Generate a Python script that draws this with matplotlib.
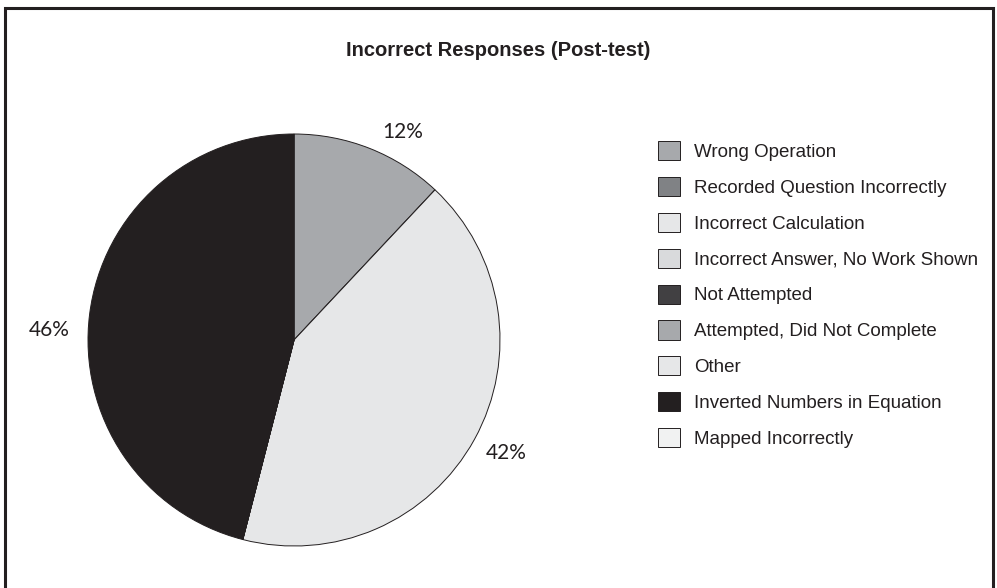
import matplotlib
matplotlib.use("Agg")
import matplotlib.pyplot as plt
from matplotlib.patches import Rectangle

categories = ["Wrong Operation", "Recorded Question Incorrectly",
              "Incorrect Calculation", "Incorrect Answer, No Work Shown",
              "Not Attempted", "Attempted, Did Not Complete", "Other",
              "Inverted Numbers in Equation", "Mapped Incorrectly"]
percents = [12, 0, 42, 0, 0, 0, 0, 46, 0]
colors = ["#a7a9ac", "#808285", "#e6e7e8", "#d9dadc", "#414042",
          "#a7a9ac", "#e6e7e8", "#231f20", "#f1f2f2"]

ink = "#231f20"
W, H = 997, 588

fig = plt.figure(figsize=(W / 100, H / 100), dpi=100)

# square axes holding the pie (pixel box converted to figure fractions)
ax = fig.add_axes([88 / W, 42 / H, 412 / W, 412 / H])
wedges, _ = ax.pie(percents, colors=colors, startangle=90, counterclock=False,
                   radius=1, wedgeprops=dict(edgecolor=ink, linewidth=0.7))
ax.set_xlim(-1, 1)
ax.set_ylim(-1, 1)
ax.set_aspect("equal")
ax.axis("off")

# percentage labels sit just outside their slice
label_xy = {0: (0.53, 1.01), 2: (1.03, -0.55), 7: (-1.19, 0.05)}
for i, p in enumerate(percents):
    if p == 0:
        continue
    x, y = label_xy[i]
    ax.text(x, y, f"{p}%", ha="center", va="center", fontsize=15,
            family="Lato", color=ink, clip_on=False)

fig.text(0.5, 1 - 51 / H, "Incorrect Responses (Post-test)", ha="center",
         va="center", fontsize=14.5, fontweight="bold",
         family="Liberation Sans", color=ink)

leg = fig.legend(wedges, categories, loc="upper left",
                 bbox_to_anchor=(658 / W, 1 - 141 / H), frameon=False,
                 borderpad=0, borderaxespad=0, handlelength=1.17,
                 handleheight=1.2, handletextpad=0.75, labelspacing=0.85,
                 prop={"family": "Liberation Sans", "size": 13.5})
for t in leg.get_texts():
    t.set_color(ink)

# outer frame, open at the bottom edge
fig.patches.append(Rectangle((5 / W, -0.05), 988 / W, 1.05 - 8 / H,
                             transform=fig.transFigure, fill=False,
                             edgecolor=ink, linewidth=2.2, clip_on=False))

fig.savefig("out.png", dpi=100, facecolor="white")
